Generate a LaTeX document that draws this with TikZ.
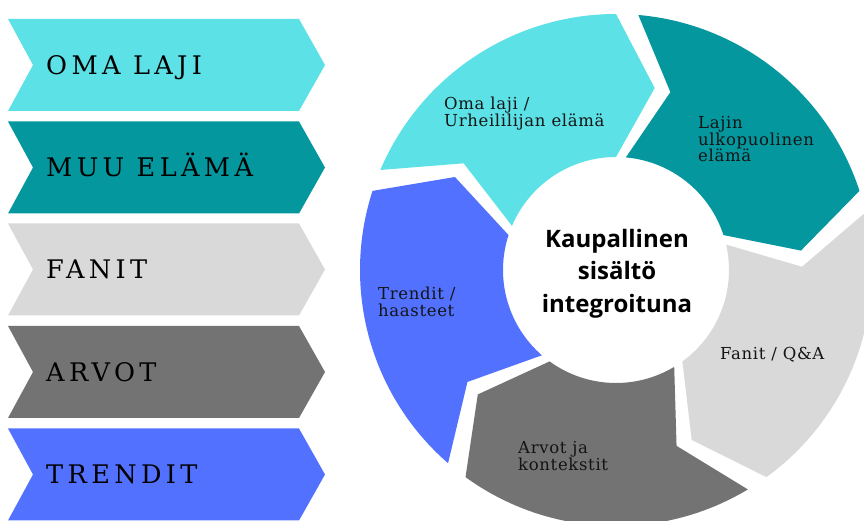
\documentclass[tikz,border=0pt]{standalone}
\usepackage{fontspec}
\usepackage{xcolor}
\setmainfont{DejaVu Serif}
\newfontfamily\hubfont{Open Sans}
\usepackage{tikz}
\usetikzlibrary{positioning, calc}

\definecolor{segcyan}{HTML}{5CE1E6}
\definecolor{segteal}{HTML}{04979E}
\definecolor{seglight}{HTML}{D9D9D9}
\definecolor{segdark}{HTML}{737373}
\definecolor{segblue}{HTML}{5271FF}
\definecolor{labeltext}{HTML}{141414}

\begin{document}
\begin{tikzpicture}[x=1pt, y=1pt]
    \tikzset{
        banner/.pic={
                \path[pic actions] (-158, 46) -- (133, 46) -- (159, 0) -- (133, -46) -- (-158, -46) -- (-133, 0) -- cycle;
            },
        banner label/.style={
                font=\fontsize{25.6}{28}\selectfont\addfontfeatures{LetterSpace=17},
                text=black, anchor=base west, inner sep=0pt
            },
        ring label/.style={
                font=\fontsize{16.5}{16.3}\selectfont\addfontfeatures{LetterSpace=4},
                text=labeltext, align=left, anchor=north west, inner sep=0pt
            },
        hub label/.style={
                font=\hubfont\bfseries\fontsize{24}{32.5}\selectfont,
                text=black, align=center, anchor=north, inner sep=0pt
            }
    }

    \clip (0, 0) rectangle (864, 521);
    \fill[white] (0, 0) rectangle (864, 521);

    % Left banners
    \pic[fill=segcyan] (omaLaji) at (166, 456) {banner};
    \pic[fill=segteal] (muuElama) at (166, 353.5) {banner};
    \pic[fill=seglight] (fanit) at (166, 251.5) {banner};
    \pic[fill=segdark] (arvot) at (166, 149) {banner};
    \pic[fill=segblue] (trendit) at (166, 46.5) {banner};

    \node[banner label] (omaLajiText) at (46, 446.5) {OMA LAJI};
    \node[banner label] (muuElamaText) at (46, 344) {MUU ELÄMÄ};
    \node[banner label] (fanitText) at (46, 242) {FANIT};
    \node[banner label] (arvotText) at (46, 139.5) {ARVOT};
    \node[banner label] (trenditText) at (46, 37) {TRENDIT};

    % Ring of arrows, clockwise
    \coordinate (hub) at (616, 251);
    \foreach \s/\c in {157/segcyan, 85/segteal, 13/seglight, -59/segdark, -131/segblue}{
            \fill[\c, shift={(hub)}] (\s:256) arc[start angle=\s, end angle=\s-67, radius=256]
            -- (\s-79:186) -- (\s-67:113) arc[start angle=\s-67, end angle=\s, radius=113]
            -- (\s-12:186) -- cycle;
        }

    \node[ring label] (omaLajiRing) at (444, 424.5) {Oma laji /\\Urheililijan elämä};
    \node[ring label] (lajinUlko) at (698, 404.5) {Lajin\\ulkopuolinen\\elämä};
    \node[ring label] (fanitRing) at (720, 174) {Fanit / Q\&A};
    \node[ring label] (arvotRing) at (518, 79.5) {Arvot ja\\kontekstit};
    \node[ring label] (trenditRing) at (378, 234) {Trendit /\\haasteet};

    \node[hub label] (hubText) at (617, 292) {Kaupallinen\\sisältö\\integroituna};
\end{tikzpicture}
\end{document}
